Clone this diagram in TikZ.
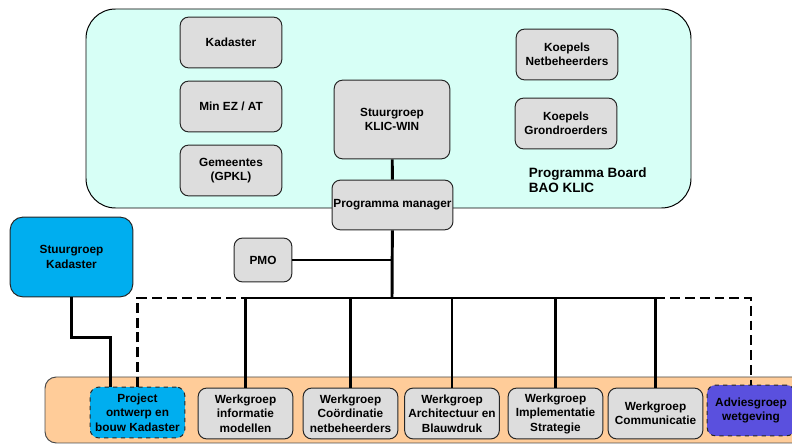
\documentclass[tikz,border=0pt]{standalone}
\usepackage{fontspec}
\setmainfont{Liberation Sans}
\usetikzlibrary{positioning}
\definecolor{boardcyan}{RGB}{215,255,246}
\definecolor{boxgray}{RGB}{221,221,221}
\definecolor{bandorange}{RGB}{255,204,153}
\definecolor{kadcyan}{RGB}{0,174,239}
\definecolor{advpurple}{RGB}{90,80,222}
\tikzset{
  box/.style={draw=black!85, line width=0.7pt, fill=boxgray, rounded corners=6pt, align=center,
    inner sep=1pt, font=\fontsize{8.4}{10.3}\selectfont\bfseries},
  topbox/.style={box, minimum width=72.3pt, minimum height=36.1pt},
  wgbox/.style={box, minimum width=67.3pt, minimum height=36.1pt},
  link/.style={line width=2.1pt},
  dlink/.style={line width=2.1pt, dash pattern=on 7pt off 3.5pt},
}
\begin{document}
\begin{tikzpicture}[x=0.025cm,y=-0.025cm]
\useasboundingbox (0,0) rectangle (792,445);
\draw[line width=0.7pt, fill=boardcyan, rounded corners=21pt] (86,9) rectangle (691,208);
\draw[line width=0.7pt, draw=black!70, fill=bandorange, rounded corners=8pt] (45,377) rectangle (830,443);

\node[topbox] (kad) at (231,42.5) {Kadaster};
\node[topbox] (minez) at (231,106.5) {Min EZ / AT};
\node[topbox] (gem) at (231,170.5) {Gemeentes\\(GPKL)};
\node[topbox] (kn) at (567,54.5) {Koepels\\Netbeheerders};
\node[topbox] (kg) at (566,123.5) {Koepels\\Grondroerders};
\node[box, minimum width=82.2pt, minimum height=56pt] (klic) at (392,119.5) {Stuurgroep\\KLIC-WIN};
\node[box, minimum width=85.8pt, minimum height=35.4pt] (pm) at (392.5,205) {Programma manager};
\node[anchor=west, align=left, font=\fontsize{9.6}{10.6}\selectfont\bfseries] (board) at (524,180) {Programma Board\\BAO KLIC};

\node[box, fill=kadcyan, rounded corners=9pt, minimum width=87.2pt, minimum height=56.7pt] (sk) at (71.5,257) {Stuurgroep\\Kadaster};
\node[box, minimum width=41.1pt, minimum height=31.2pt] (pmo) at (263,260) {PMO};

\node[wgbox, fill=kadcyan, dashed] (proj) at (137.5,412.5) {Project\\ontwerp en\\bouw Kadaster};
\node[wgbox] (wg1) at (245.5,413.5) {Werkgroep\\informatie\\modellen};
\node[wgbox] (wg2) at (350.5,413.5) {Werkgroep\\Coördinatie\\netbeheerders};
\node[wgbox] (wg3) at (452,413.5) {Werkgroep\\Architectuur en\\Blauwdruk};
\node[wgbox] (wg4) at (555.5,413.5) {Werkgroep\\Implementatie\\Strategie};
\node[wgbox] (wg5) at (655.5,413.5) {Werkgroep\\Communicatie};
\node[wgbox, fill=advpurple, dashed, minimum width=62.4pt] (adv) at (751,410.5) {Adviesgroep\\wetgeving};

\coordinate (bus) at (392,298);
\draw[link] (klic) -- (pm);
\draw[link] (pm) -- (bus);
\draw[link] (pmo) -- (pmo -| pm.south);
\draw[link] (wg1.north |- bus) -- (wg5.north |- bus);
\foreach \wg in {wg1,wg2,wg3,wg4,wg5}
  \draw[link] (\wg.north) -- (\wg.north |- bus);
\draw[dlink] (proj.north) -- (proj.north |- bus) -- (wg1.north |- bus);
\draw[dlink] (wg5.north |- bus) -- (adv.north |- bus) -- (adv.north);
\draw[link] (sk.south) -- ++(0,40) -| ([xshift=-19.5pt]proj.north);
\end{tikzpicture}
\end{document}
